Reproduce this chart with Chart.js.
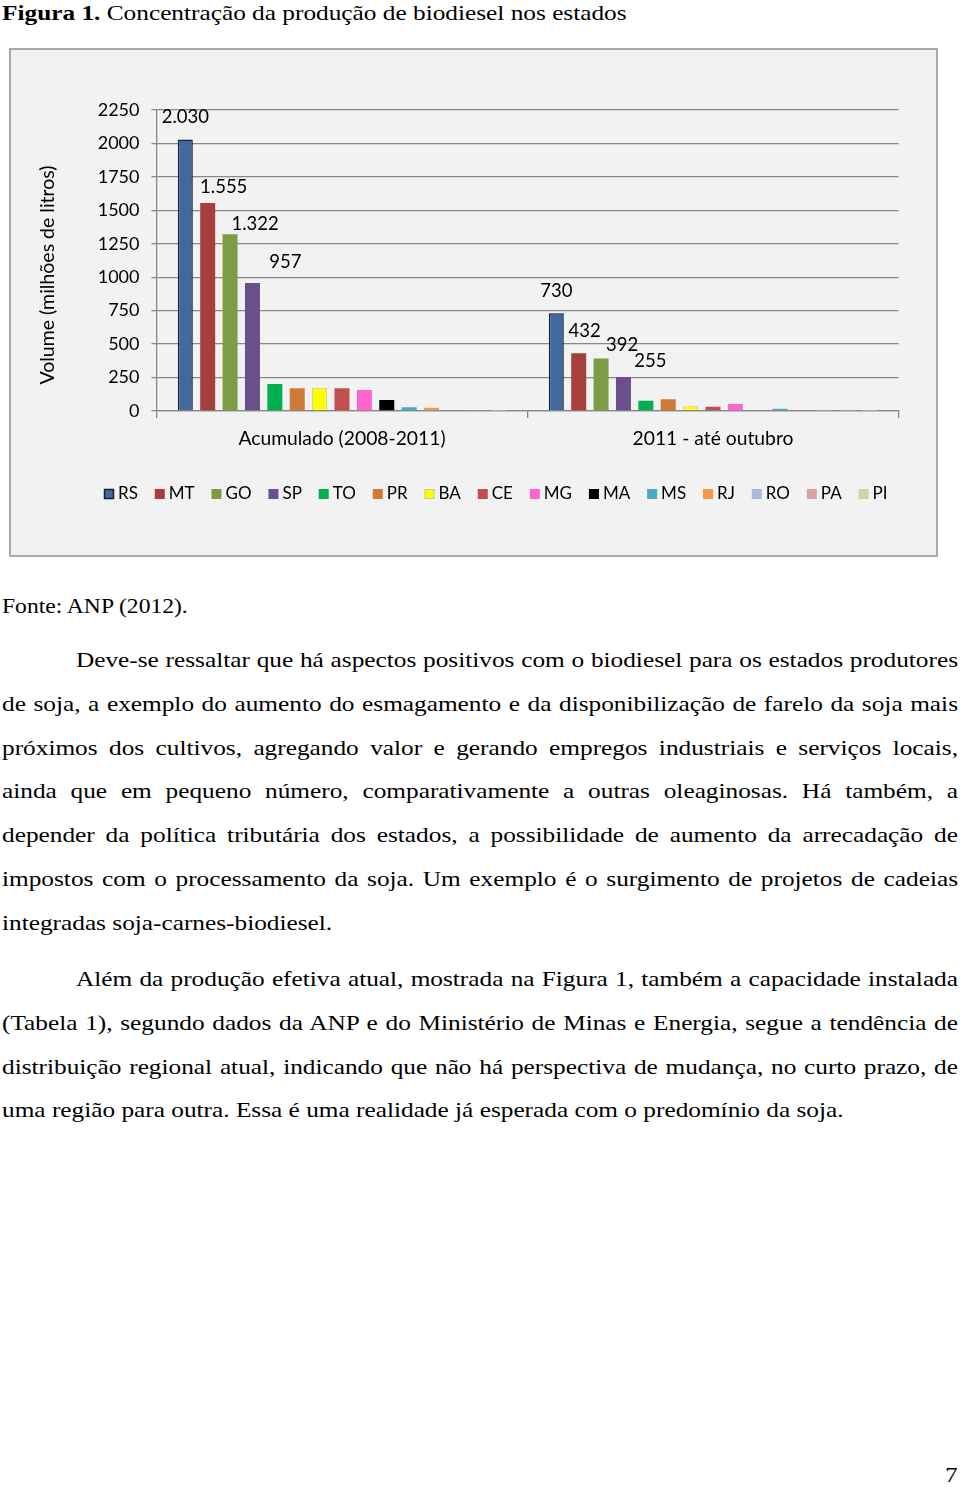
<!DOCTYPE html>
<html><head><meta charset="utf-8">
<script src="https://cdn.jsdelivr.net/npm/chart.js@4.4.1/dist/chart.umd.min.js"></script>
<style>
body{margin:0;background:#fff;width:960px;height:1487px;position:relative;font-family:"Liberation Serif","Times New Roman",serif;color:#000;overflow:hidden;}
.t{position:absolute;left:2px;white-space:nowrap;font-size:22px;line-height:26px;transform:scaleX(1.15);transform-origin:0 0;}
#box{position:absolute;left:9px;top:48px;width:929px;height:509px;box-sizing:border-box;border:2px solid #a9a9a9;background:#f2f2f2;}
canvas{display:block}
.p{position:absolute;left:2px;width:831.3px;font-size:22px;line-height:43.8px;text-align:justify;text-indent:64.3px;margin:0;transform:scaleX(1.15);transform-origin:0 0;}
</style></head>
<body>
<div class="t" style="top:0px;"><b>Figura 1.</b> Concentração da produção de biodiesel nos estados</div>
<div id="box"><canvas id="c" width="925" height="505"></canvas></div>
<div class="t" style="top:593px;font-size:20.5px;">Fonte: ANP (2012).</div>
<p class="p" style="top:638px;">Deve-se ressaltar que há aspectos positivos com o biodiesel para os estados produtores de soja, a exemplo do aumento do esmagamento e da disponibilização de farelo da soja mais próximos dos cultivos, agregando valor e gerando empregos industriais e serviços locais, ainda que em pequeno número, comparativamente a outras oleaginosas. Há também, a depender da política tributária dos estados, a possibilidade de aumento da arrecadação de impostos com o processamento da soja. Um exemplo é o surgimento de projetos de cadeias integradas soja-carnes-biodiesel.</p>
<p class="p" style="top:957px;">Além da produção efetiva atual, mostrada na Figura 1, também a capacidade instalada (Tabela 1), segundo dados da ANP e do Ministério de Minas e Energia, segue a tendência de distribuição regional atual, indicando que não há perspectiva de mudança, no curto prazo, de uma região para outra. Essa é uma realidade já esperada com o predomínio da soja.</p>
<div class="t" style="top:1462px;left:945px;">7</div>
<script>
// ---- data ----
const categories = ["Acumulado (2008-2011)", "2011 - até outubro"];
const states = ["RS","MT","GO","SP","TO","PR","BA","CE","MG","MA","MS","RJ","RO","PA","PI"];
const RS = [2030, 730];
const MT = [1555, 432];
const GO = [1322, 392];
const SP = [957, 255];
const TO = [202, 77];
const PR = [170, 87];
const BA = [174, 35];
const CE = [170, 32];
const MG = [157, 52];
const MA = [82, 0];
const MS = [28, 17];
const RJ = [25, 0];
const RO = [5, 1];
const PA = [3, 1];
const PI = [2, 1];
const seriesValues = [RS, MT, GO, SP, TO, PR, BA, CE, MG, MA, MS, RJ, RO, PA, PI];
const yTicks = [0, 250, 500, 750, 1000, 1250, 1500, 1750, 2000, 2250];
const yTitle = "Volume (milhões de litros)";
const labelledSeries = ["RS","MT","GO","SP"];

// ---- styles ----
const colors = ["#41689f","#a6403d","#7e9c46","#694f8c","#00b050","#cd7b37","#ffff00","#c24f4f","#ff63cc","#000000","#4aaac3","#f7964a","#a5bcdc","#d9a3a3","#c6d9a4"];
const borders = {RS:["#16203a",1.5], BA:["#c9c98f",1]};
const FONT = "Lato";
const GRID = "#888888";

const datasets = states.map((s, i) => ({
  label: s,
  data: seriesValues[i],
  backgroundColor: colors[i],
  borderColor: borders[s] ? borders[s][0] : colors[i],
  borderWidth: borders[s] ? borders[s][1] : 0,
  categoryPercentage: 0.905,
  barPercentage: 0.67
}));

// label offsets (dx, dy from bar top-center) per dataset per category
const labelOffsets = {
  RS: [[0,-22],[0,-22]],
  MT: [[16,-16],[6,-22]],
  GO: [[25,-10],[21,-14]],
  SP: [[33,-21],[27,-16]]
};

const fmt = v => v.toLocaleString('pt-BR');

const valueLabels = {
  id: 'valueLabels',
  afterDatasetsDraw(chart) {
    const ctx = chart.ctx;
    ctx.save();
    ctx.font = `18.5px ${FONT}`;
    ctx.fillStyle = '#000';
    ctx.textAlign = 'center';
    ctx.textBaseline = 'middle';
    chart.data.datasets.forEach((ds, di) => {
      if (!labelledSeries.includes(ds.label)) return;
      const meta = chart.getDatasetMeta(di);
      meta.data.forEach((bar, i) => {
        const off = labelOffsets[ds.label][i];
        ctx.fillText(fmt(ds.data[i]), bar.x + off[0], bar.y + off[1]);
      });
    });
    ctx.restore();
  }
};

const customLegend = {
  id: 'customLegend',
  afterDraw(chart) {
    const ctx = chart.ctx;
    ctx.save();
    ctx.font = `17px ${FONT}`;
    ctx.textBaseline = 'middle';
    ctx.textAlign = 'left';
    let x = 93;
    const y = 444;
    chart.data.datasets.forEach(ds => {
      ctx.fillStyle = ds.backgroundColor;
      ctx.fillRect(x, y - 5, 10, 10);
      if (ds.borderWidth > 0) {
        ctx.strokeStyle = ds.borderColor;
        ctx.lineWidth = ds.borderWidth;
        ctx.strokeRect(x + 0.5, y - 4.5, 9, 9);
      }
      ctx.fillStyle = '#000';
      ctx.fillText(ds.label, x + 14, y);
      x += 14 + ctx.measureText(ds.label).width + 16.9;
    });
    // y-axis title
    ctx.font = `19.5px ${FONT}`;
    ctx.textAlign = 'center';
    ctx.translate(37, 225);
    ctx.rotate(-Math.PI / 2);
    ctx.fillText(yTitle, 0, 0);
    ctx.restore();
  }
};

new Chart(document.getElementById('c'), {
  type: 'bar',
  data: { labels: categories, datasets },
  options: {
    responsive: false,
    devicePixelRatio: 1,
    animation: false,
    layout: { padding: { left: 26, right: 37.5, top: 60, bottom: 104 } },
    plugins: { legend: { display: false }, tooltip: { enabled: false } },
    scales: {
      x: {
        grid: { display: true, drawOnChartArea: false, drawTicks: true, tickLength: 7, color: GRID, lineWidth: 1.3, offset: true },
        border: { display: true, color: GRID, width: 1.3 },
        ticks: { color: '#000', font: { family: FONT, size: 19.3 }, padding: 9, maxRotation: 0 },
        afterFit(scale) { scale.height = 40; }
      },
      y: {
        min: 0, max: 2250,
        afterBuildTicks(scale) { scale.ticks = yTicks.map(v => ({ value: v })); },
        grid: { color: GRID, lineWidth: 1.3, tickLength: 5, drawTicks: true },
        border: { display: true, color: GRID, width: 1.3 },
        ticks: { color: '#000', font: { family: FONT, size: 18 }, padding: 12, callback: v => String(v) },
        title: { display: false },
        afterFit(scale) { scale.width = 145.5 - 26; }
      }
    }
  },
  plugins: [valueLabels, customLegend]
});
</script>
</body></html>
